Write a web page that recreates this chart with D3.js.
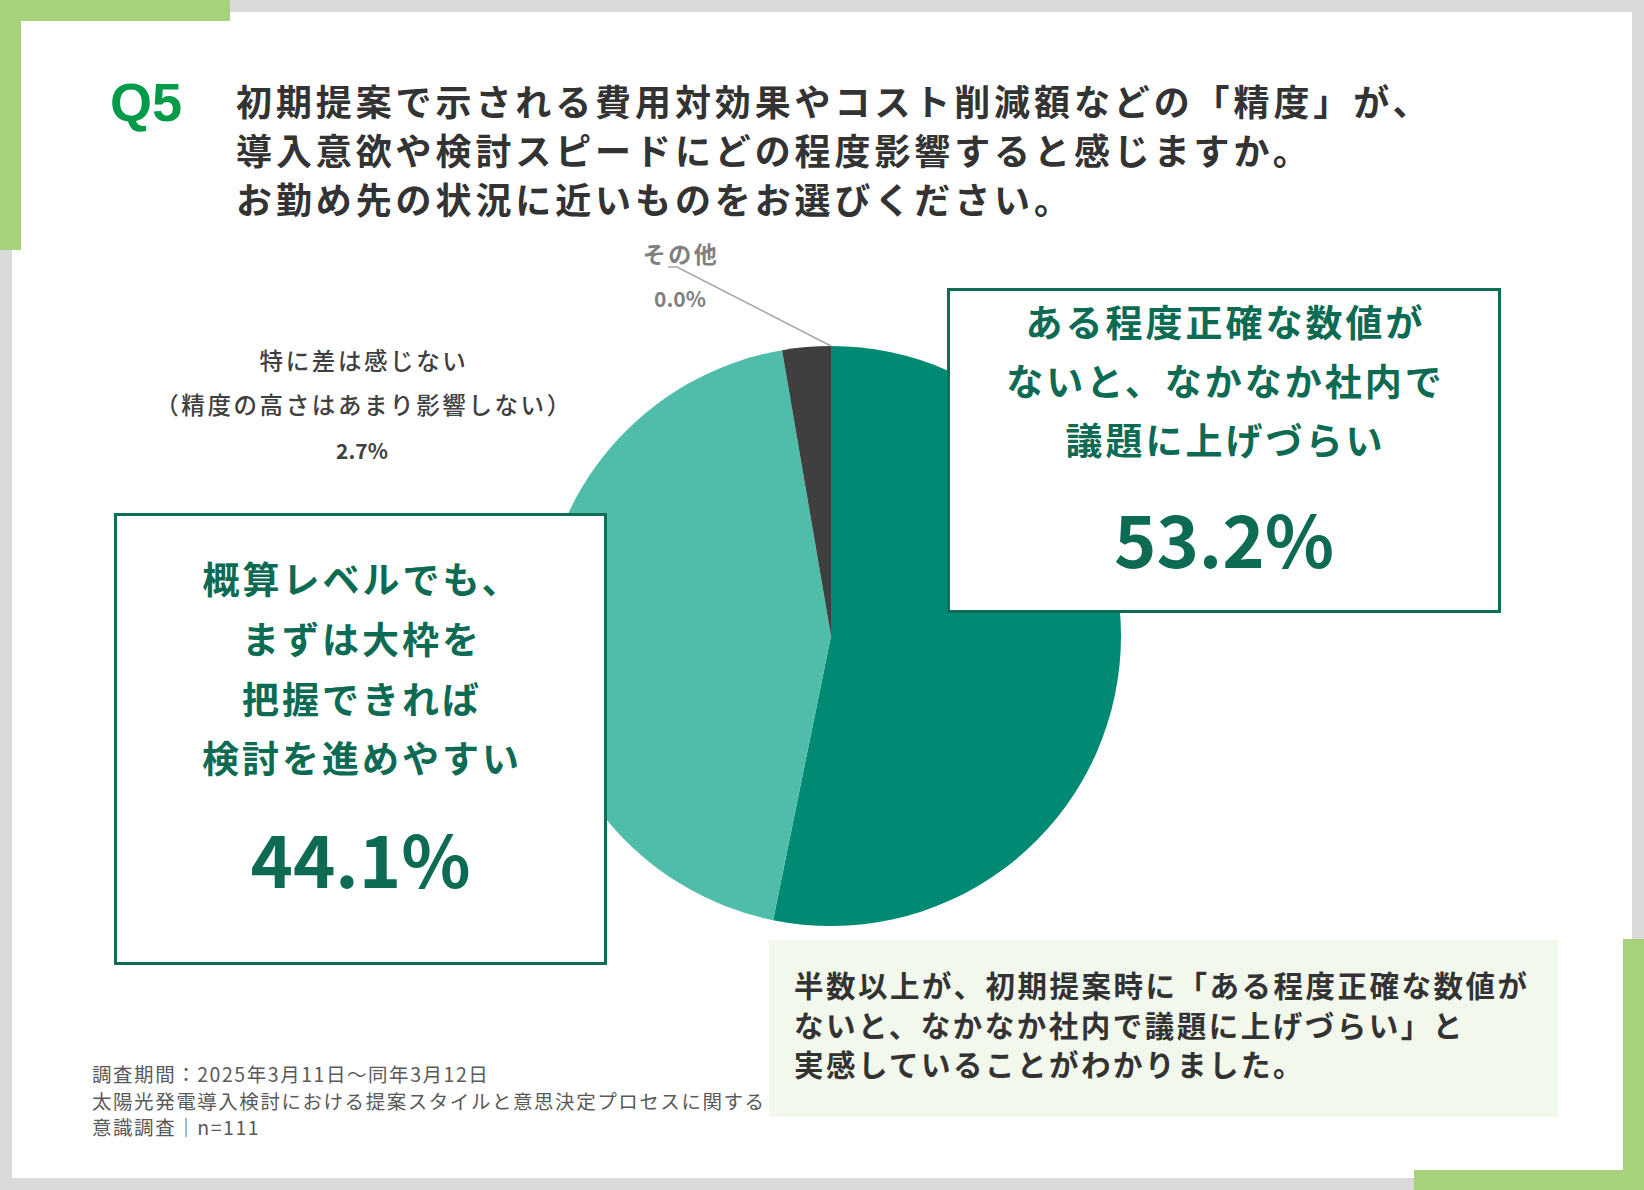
<!DOCTYPE html>
<html>
<head>
<meta charset="utf-8">
<script src="https://cdn.jsdelivr.net/npm/d3@7"></script>
<style>
  html, body { margin: 0; padding: 0; background: #ffffff; }
  svg { display: block; }
  text { font-family: "Noto Sans CJK JP", "Noto Sans", sans-serif; }
</style>
</head>
<body>
<svg id="chart" width="1644" height="1190"></svg>
<script>
// ---- data ----
const categories = [
  "ある程度正確な数値がないと、なかなか社内で議題に上げづらい",
  "概算レベルでも、まずは大枠を把握できれば検討を進めやすい",
  "特に差は感じない（精度の高さはあまり影響しない）",
  "その他"
];
const values = [53.2, 44.1, 2.7, 0.0];
const sliceColors = ["#008a73", "#50bdab", "#3f3f3f", "#bfbfbf"];

const labelLines = [
  ["ある程度正確な数値が", "ないと、なかなか社内で", "議題に上げづらい"],
  ["概算レベルでも、", "まずは大枠を", "把握できれば", "検討を進めやすい"],
  ["特に差は感じない", "（精度の高さはあまり影響しない）"],
  ["その他"]
];

const questionNo = "Q5";
const titleLines = [
  "初期提案で示される費用対効果やコスト削減額などの「精度」が、",
  "導入意欲や検討スピードにどの程度影響すると感じますか。",
  "お勤め先の状況に近いものをお選びください。"
];
const summaryLines = [
  "半数以上が、初期提案時に「ある程度正確な数値が",
  "ないと、なかなか社内で議題に上げづらい」と",
  "実感していることがわかりました。"
];
const footerLines = [
  "調査期間：2025年3月11日～同年3月12日",
  "太陽光発電導入検討における提案スタイルと意思決定プロセスに関する",
  "意識調査｜n=111"
];

// ---- drawing ----
const svg = d3.select("#chart");
const W = 1644, H = 1190;
const fmt = d => d3.format(".1f")(d) + "%";

// background frame
svg.append("rect").attr("x", 0).attr("y", 0).attr("width", W).attr("height", H).attr("fill", "#d9d9d9");
svg.append("rect").attr("x", 12).attr("y", 12).attr("width", 1620).attr("height", 1166).attr("fill", "#ffffff");
const lightGreen = "#a5d27a";
svg.append("rect").attr("x", 0).attr("y", 0).attr("width", 230).attr("height", 21).attr("fill", lightGreen);
svg.append("rect").attr("x", 0).attr("y", 0).attr("width", 21).attr("height", 250).attr("fill", lightGreen);
svg.append("rect").attr("x", 1414).attr("y", 1170).attr("width", 230).attr("height", 20).attr("fill", lightGreen);
svg.append("rect").attr("x", 1623).attr("y", 939).attr("width", 21).attr("height", 251).attr("fill", lightGreen);

// title
svg.append("text").attr("x", 110).attr("y", 121)
  .style("font-family", "'Liberation Sans', Arial, sans-serif")
  .style("font-weight", 700).style("font-size", "54px").attr("fill", "#009b48")
  .text(questionNo);
svg.append("g").selectAll("text").data(titleLines).join("text")
  .attr("x", 236).attr("y", (d, i) => 116 + i * 49)
  .style("font-weight", 700).style("font-size", "36px").style("letter-spacing", "3.9px")
  .attr("fill", "#333333").text(d => d);

// pie
const cx = 831, cy = 636, r = 290;
const pie = d3.pie().sort(null).value(d => d.value).startAngle(0).endAngle(2 * Math.PI);
const arcs = pie(values.map((v, i) => ({ value: v, name: categories[i], i })));
const arc = d3.arc().innerRadius(0).outerRadius(r);
const gPie = svg.append("g").attr("transform", `translate(${cx},${cy})`);
gPie.selectAll("path").data(arcs).join("path")
  .attr("d", arc).attr("fill", d => sliceColors[d.data.i]);

// leader line for "その他" (0.0%) at the slice position
const other = arcs[3];
const ang = other.startAngle;
const px = cx + r * Math.sin(ang), py = cy - r * Math.cos(ang);
svg.append("polyline")
  .attr("points", `668,267 677,267 ${px},${py}`)
  .attr("fill", "none").attr("stroke", "#a6a6a6").attr("stroke-width", 1.5);
svg.append("text").attr("x", 681).attr("y", 263).attr("text-anchor", "middle")
  .style("font-weight", 700).style("font-size", "23px").style("letter-spacing", "2.5px")
  .attr("fill", "#808080").text(labelLines[3][0]);
svg.append("text").attr("x", 680).attr("y", 307).attr("text-anchor", "middle")
  .style("font-weight", 700).style("font-size", "21px")
  .attr("fill", "#808080").text(fmt(values[3]));

// label for 2.7%
svg.append("g").selectAll("text").data(labelLines[2]).join("text")
  .attr("x", 364).attr("y", (d, i) => 370 + i * 44).attr("text-anchor", "middle")
  .style("font-weight", 500).style("font-size", "23.5px").style("letter-spacing", "2.6px")
  .attr("fill", "#404040").text(d => d);
svg.append("text").attr("x", 362).attr("y", 459).attr("text-anchor", "middle")
  .style("font-weight", 700).style("font-size", "21px")
  .attr("fill", "#404040").text(fmt(values[2]));

// callout boxes
const boxColor = "#0d6e55";
const textColor = "#0d6b54";
function callout(x, y, w, h, lines, lineY, numY, value) {
  const g = svg.append("g");
  g.append("rect").attr("x", x + 1.5).attr("y", y + 1.5).attr("width", w - 3).attr("height", h - 3)
    .attr("fill", "#ffffff").attr("stroke", boxColor).attr("stroke-width", 3);
  const mx = x + w / 2;
  g.selectAll("text.l").data(lines).join("text").attr("class", "l")
    .attr("x", mx + 1.5).attr("y", (d, i) => lineY[i]).attr("text-anchor", "middle")
    .style("font-weight", 700).style("font-size", "37px").style("letter-spacing", "3px")
    .attr("fill", textColor).text(d => d);
  g.append("text").attr("x", mx).attr("y", numY).attr("text-anchor", "middle")
    .style("font-weight", 700).style("font-size", "72px")
    .attr("fill", textColor).text(fmt(value));
}
callout(947, 288, 554, 325, labelLines[0], [337, 396, 455], 568, values[0]);
callout(114, 513, 493, 452, labelLines[1], [594, 654, 714, 773], 888, values[1]);

// summary box
svg.append("rect").attr("x", 769).attr("y", 940).attr("width", 789).attr("height", 177).attr("fill", "#f2f8ec");
svg.append("g").selectAll("text").data(summaryLines).join("text")
  .attr("x", 794).attr("y", (d, i) => 997 + i * 39.5)
  .style("font-weight", 700).style("font-size", "29.5px").style("letter-spacing", "2.5px")
  .attr("fill", "#333333").text(d => d);

// footer
svg.append("g").selectAll("text").data(footerLines).join("text")
  .attr("x", 92).attr("y", (d, i) => 1082 + i * 26.5)
  .style("font-weight", 400).style("font-size", "19.5px").style("letter-spacing", "1.55px")
  .attr("fill", "#595959").text(d => d);
</script>
</body>
</html>
